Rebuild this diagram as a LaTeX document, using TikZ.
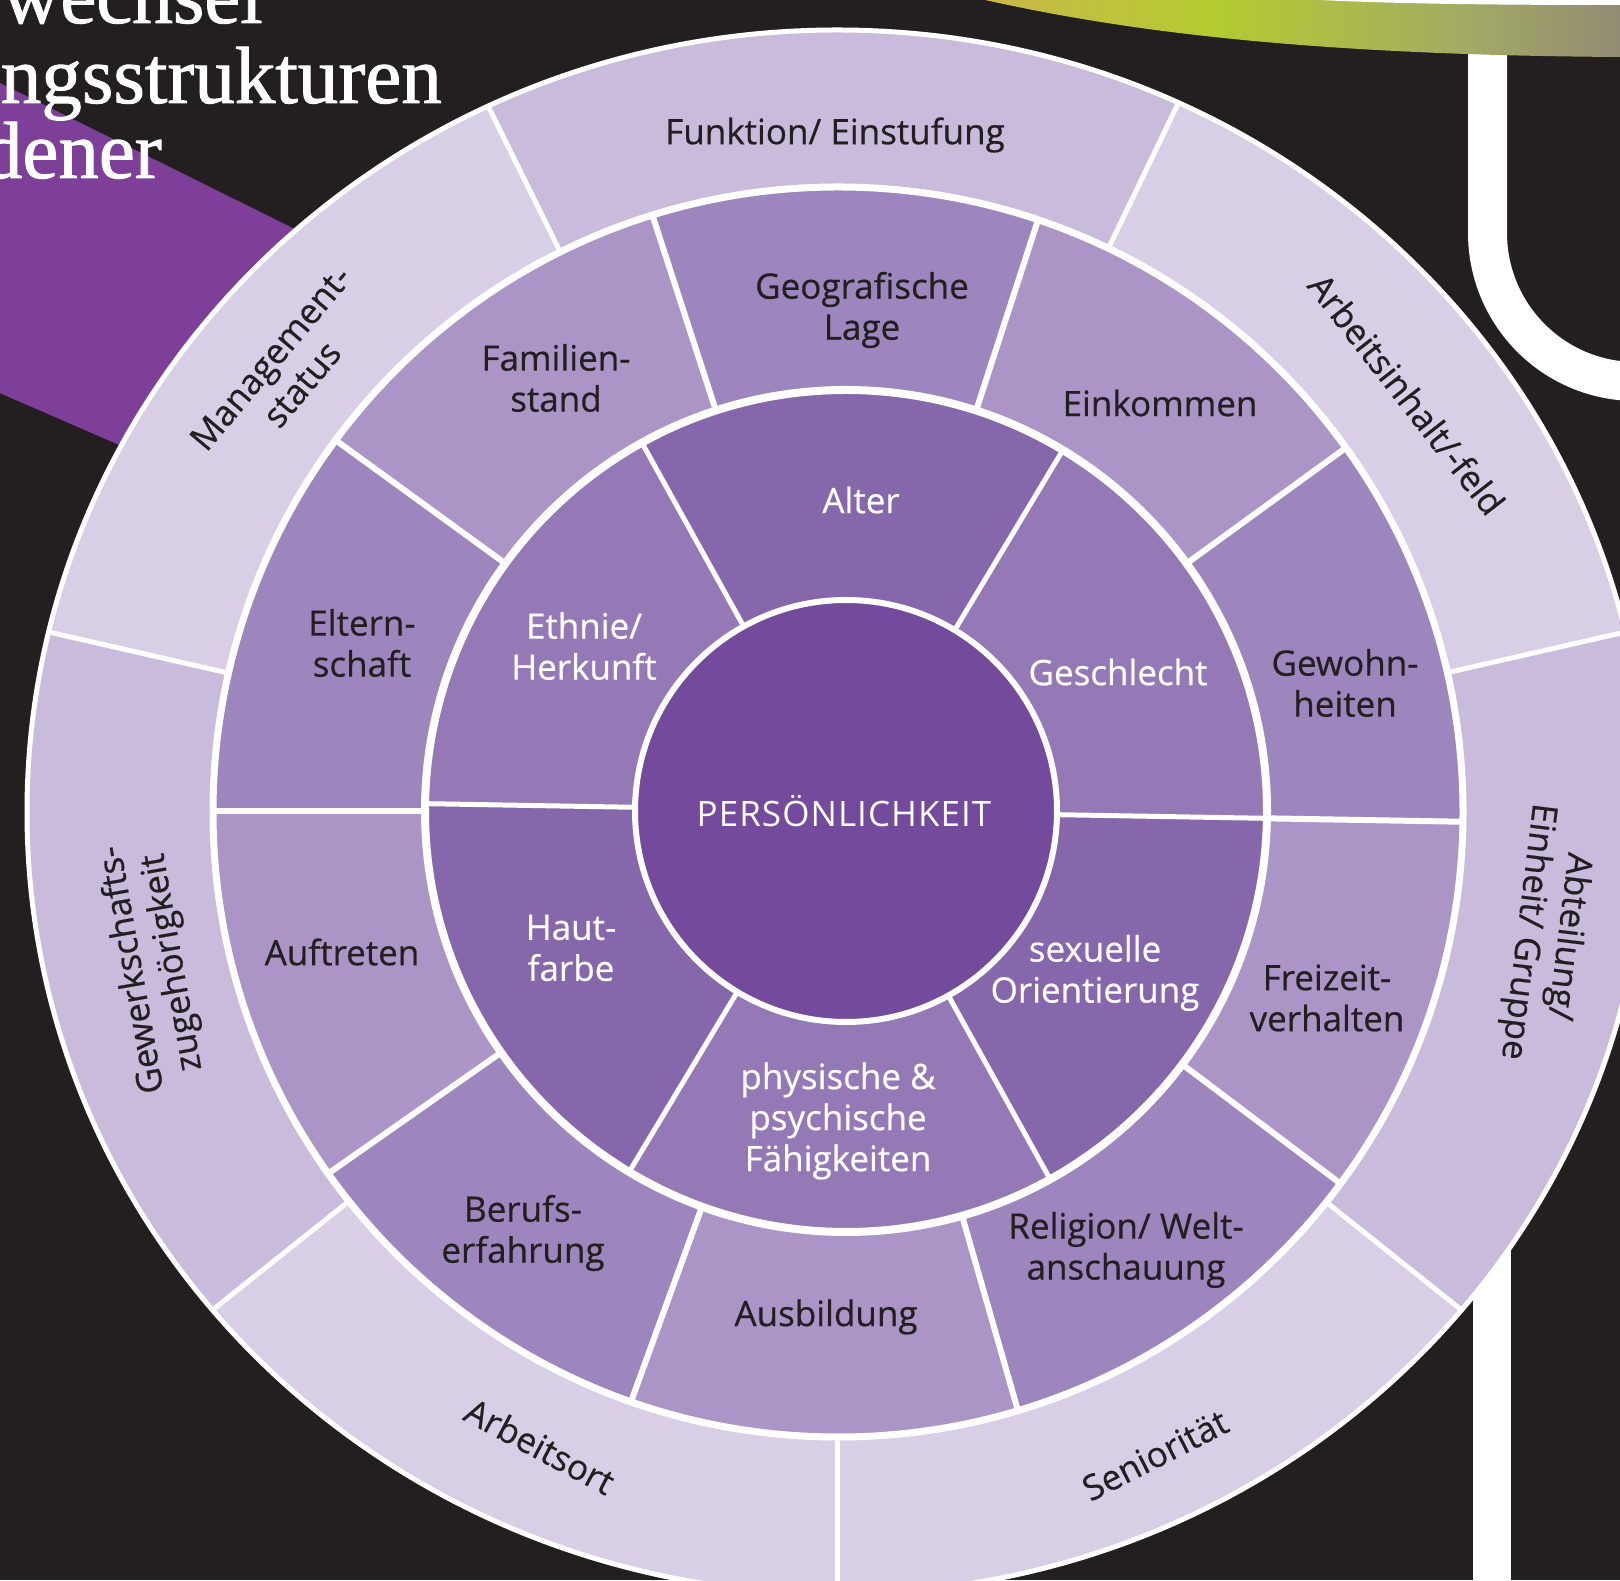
\documentclass[tikz,border=0pt]{standalone}
\usepackage{fontspec}
\setmainfont{Open Sans}[FakeBold=0.5]
\newfontfamily\titleserif{Liberation Serif}[FakeBold=1.2]
\newfontfamily\coresans{Open Sans}[LetterSpace=3]
\usetikzlibrary{calc}

\definecolor{bg}{HTML}{231F20}
\definecolor{bandpurple}{HTML}{7D3F98}
\definecolor{outerA}{HTML}{D8CEE6}
\definecolor{outerB}{HTML}{C8BBDB}
\definecolor{midA}{HTML}{AB94C6}
\definecolor{midB}{HTML}{9D85BD}
\definecolor{innA}{HTML}{9579B6}
\definecolor{innB}{HTML}{8767AC}
\definecolor{core}{HTML}{744A9C}
\definecolor{ink}{HTML}{231F20}
\definecolor{gA}{HTML}{C9B84A}
\definecolor{gB}{HTML}{B4CB30}
\definecolor{gC}{HTML}{A4AC62}
\definecolor{gD}{HTML}{928C74}

\pgfdeclarehorizontalshading{greenband}{100bp}{color(0bp)=(gA); color(25bp)=(gA); color(43bp)=(gB); color(62bp)=(gC); color(75bp)=(gD); color(100bp)=(gD)}

\begin{document}
\begin{tikzpicture}[x=1pt,y=1pt,
  lbl/.style={font=\fontsize{35}{41}\selectfont, text=ink, align=center, inner sep=0pt},
  lblw/.style={lbl, text=white},
  titletext/.style={font=\titleserif\fontsize{81}{81}\selectfont, text=white, inner sep=0pt, anchor=base east},
  divider/.style={draw=white, line width=#1},
  ringedge/.style={draw=white, line width=#1}]

\useasboundingbox (0,0) rectangle (1620,1580);
\clip (0,0) rectangle (1620,1580);
\fill[bg] (0,0) rectangle (1620,1580);

% centres of the rings
\coordinate (C1) at (846,769);
\coordinate (C2) at (838,768);
\coordinate (C3) at (837,768);

% purple band coming in from the upper left
\fill[bandpurple] (-5,1499.5) -- (650,1175) -- (650,904) -- (-5,1189) -- cycle;

% title lines
\node[titletext] (t1) at (263,1557) {wechsel};
\node[titletext] (t2) at (442,1477) {ngsstrukturen};
\node[titletext] (t3) at (162,1402) {dener};

% white U-shaped line on the right
\draw[white, line width=39] (1487.5,1560) -- (1487.5,1347)
  arc[start angle=180, end angle=270, radius=148.5pt] -- ++(60,0);
% white vertical line at the bottom right
\fill[white] (1473,-10) rectangle (1511,480);

% green gradient arc at the top
\shade[shading=greenband] (985,1580) .. controls (1120,1550) and (1300,1525) .. (1620,1523)
  -- (1620,1590) -- (985,1590) -- cycle;
\fill[white] (1320,1580) .. controls (1400,1576) and (1500,1575) .. (1620,1575)
  -- (1620,1590) -- (1320,1590) -- cycle;

% outer ring
\begin{scope}
  \clip (C3) ellipse [x radius=810pt, y radius=782pt];
  \foreach \a/\b/\c in {-90/-38.57/outerA, -38.57/12.86/outerB, 12.86/64.29/outerA,
      64.29/116.3/outerB, 116.3/167.14/outerA, 167.14/218.57/outerB, 218.57/270/outerA}
    \fill[\c] (C3) -- +(\a:2000) -- +({(\a+\b)/2}:2000) -- +(\b:2000) -- cycle;
  \foreach \a in {-90,-38.57,12.86,64.29,116.3,167.14,218.57}
    \draw[divider=5] (C3) -- +(\a:2000);
\end{scope}
\draw[ringedge=5] (C3) ellipse [x radius=810pt, y radius=782pt];

% middle ring
\begin{scope}
  \clip (C2) circle [radius=625pt];
  \foreach \a/\b/\c in {-145/-110/midB, -110/-74/midA, -74/-37/midB, -37/-1/midA,
      -1/36/midB, 36/72/midA, 72/108/midB, 108/144/midA, 144/180/midB, 180/215/midA}
    \fill[\c] (C1) -- +(\a:1500) -- +({(\a+\b)/2}:1500) -- +(\b:1500) -- cycle;
  \foreach \a in {-145,-110,-74,-37,-1,36,72,108,144,180}
    \draw[divider=6] (C1) -- +(\a:1500);
\end{scope}
\draw[ringedge=7] (C2) circle [radius=625pt];

% inner ring
\begin{scope}
  \clip (C1) circle [radius=421pt];
  \foreach \a/\b/\c in {-1/59/innA, 59/119/innB, 119/179/innA, 179/239/innB,
      239/299/innA, 299/359/innB}
    \fill[\c] (C1) -- +(\a:1000) -- +({(\a+\b)/2}:1000) -- +(\b:1000) -- cycle;
  \foreach \a in {-1,59,119,179,239,299}
    \draw[divider=5] (C1) -- +(\a:1000);
\end{scope}
\draw[ringedge=8] (C1) circle [radius=421pt];

% core
\fill[core] (C1) circle [radius=211pt];
\draw[ringedge=6] (C1) circle [radius=211pt];
\node[lblw, font=\coresans\fontsize{35}{41}\selectfont] (core) at (844,769) {PERSÖNLICHKEIT};

% inner ring labels
\node[lblw] (alt) at (861,1080) {Alter};
\node[lblw] (eth) at (584,934) {Ethnie/\\Herkunft};
\node[lblw] (ges) at (1118,908) {Geschlecht};
\node[lblw] (haut) at (571,632) {Haut-\\farbe};
\node[lblw] (sex) at (1095,607) {sexuelle\\Orientierung};
\node[lblw] (phy) at (838,459) {physische \&\\psychische\\Fähigkeiten};

% middle ring labels
\node[lbl] (geo) at (862,1270) {Geografische\\Lage};
\node[lbl] (fam) at (556,1202) {Familien-\\stand};
\node[lbl] (ein) at (1160,1177) {Einkommen};
\node[lbl] (elt) at (362,937) {Eltern-\\schaft};
\node[lbl] (gewo) at (1345,897) {Gewohn-\\heiten};
\node[lbl] (auf) at (342,628) {Auftreten};
\node[lbl] (frei) at (1327,582) {Freizeit-\\verhalten};
\node[lbl] (ber) at (523,347) {Berufs-\\erfahrung};
\node[lbl] (aus) at (826,263) {Ausbildung};
\node[lbl] (rel) at (1126,330) {Religion/ Welt-\\anschauung};

% outer ring labels
\node[lbl] (fun) at (835,1445) {Funktion/ Einstufung};
\node[lbl, rotate=-52] (arb) at (1407,1186) {Arbeitsinhalt/-feld};
\node[lbl, rotate=-97] (abt) at (1547,646) {Abteilung/\\Einheit/ Gruppe};
\node[lbl, rotate=27] (sen) at (1155,125) {Seniorität};
\node[lbl, rotate=-28] (ort) at (540,134) {Arbeitsort};
\node[lbl, rotate=100] (gew) at (153,614) {Gewerkschafts-\\zugehörigkeit};
\node[lbl, rotate=50] (man) at (286,1209) {Management-\\status};

\end{tikzpicture}
\end{document}
